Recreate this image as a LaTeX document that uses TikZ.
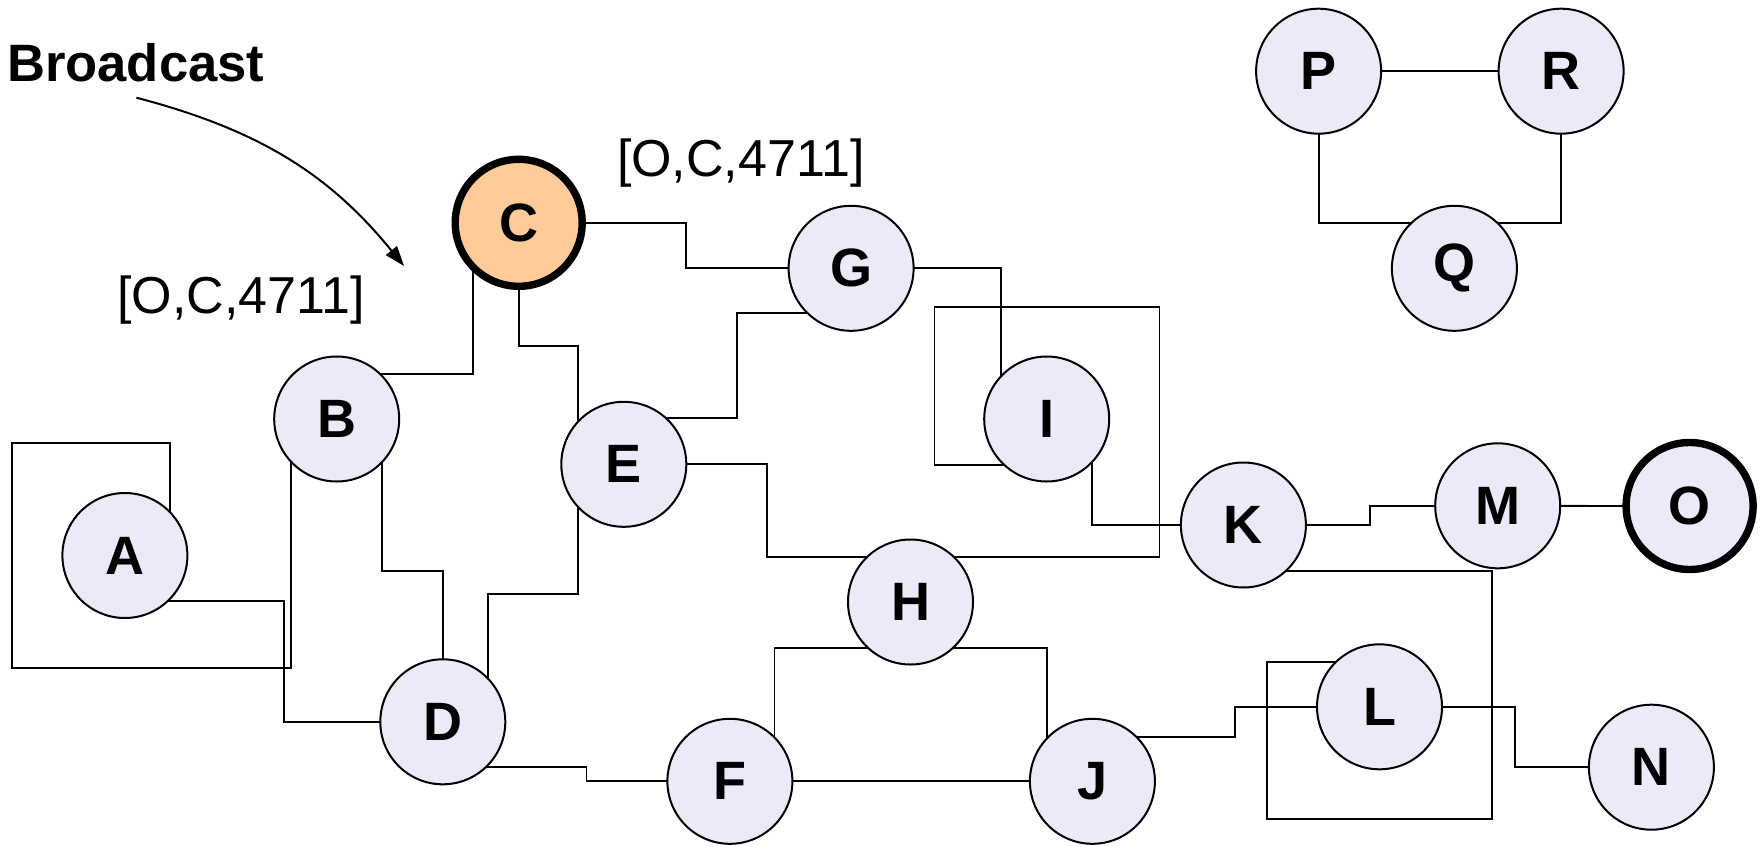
\documentclass[tikz,border=0pt]{standalone}
\usepackage{fontspec}
\setmainfont{Liberation Sans}
\usetikzlibrary{arrows.meta}
\pgfdeclarelayer{bg}
\pgfsetlayers{bg,main}
\definecolor{nodefill}{HTML}{EAEAF8}
\definecolor{srcfill}{HTML}{FFCC99}

\begin{document}
\begin{tikzpicture}[x=0.5pt,y=0.5pt]
                \tikzstyle{every node}+=[inner sep=0pt]
                \tikzstyle{station}=[circle,draw=black,line width=1pt,fill=nodefill,minimum size=62.5pt,font=\fontsize{27}{32}\selectfont\bfseries]
                \tikzstyle{endpoint}=[station,line width=3.7pt,minimum size=63.5pt]
                \tikzstyle{link}=[black,line width=0.9pt]
                \tikzstyle{tag}=[font=\fontsize{26}{31}\selectfont]
                \useasboundingbox (0,0) rectangle (1761,-846);
                \node [station] (A) at (124.9,-555.5) {A};
                \node [station] (B) at (336.7,-419) {B};
                \node [endpoint,fill=srcfill] (C) at (518.7,-222.8) {C};
                \node [station] (D) at (442.8,-721.8) {D};
                \node [station] (E) at (623.8,-464.3) {E};
                \node [station] (F) at (729.9,-781.3) {F};
                \node [station] (G) at (851.1,-268.3) {G};
                \node [station] (H) at (910.5,-602) {H};
                \node [station] (I) at (1046.7,-419) {I};
                \node [station] (J) at (1092.4,-781.3) {J};
                \node [station] (K) at (1243.4,-525) {K};
                \node [station] (L) at (1379.5,-706.8) {L};
                \node [station] (M) at (1497.7,-505.8) {M};
                \node [station] (N) at (1651.4,-767.2) {N};
                \node [endpoint] (O) at (1689.6,-506) {O};
                \node [station] (P) at (1318.6,-71.2) {P};
                \node [station] (Q) at (1454.4,-268.3) {Q};
                \node [station] (R) at (1561.1,-71.2) {R};
                \begin{pgfonlayer}{bg}
                \draw [link] (A.center) -| (170,-443) -| (12.3,-668) -| (290.7,-419) -- (B.center);
                \draw [link] (A.center) |- (284,-601.3) |- (D.center);
                \draw [link] (B.center) |- (473,-374.3) |- (C.center);
                \draw [link] (B.center) -| (381.6,-570.7) -| (D.center);
                \draw [link] (C.center) -| (685.8,-268.3) -- (G.center);
                \draw [link] (C.center) |- (578,-345.7) |- (E.center);
                \draw [link] (E.center) |- (737,-418.3) |- (851.1,-313.3) -- (G.center);
                \draw [link] (E.center) -| (578,-593.7) -| (487.7,-721.8) -- (D.center);
                \draw [link] (E.center) -| (767.2,-557.3) -| (H.center);
                \draw [link] (H.center) |- (1159.5,-557.3) |- (934.4,-306.7) |- (1046.7,-464.7) -- (I.center);
                \draw [link] (G.center) -| (1001.2,-419) -- (I.center);
                \draw [link] (I.center) -| (1092.1,-525) -- (K.center);
                \draw [link] (K.center) -| (1370,-505.8) -- (M.center);
                \draw [link] (M.center) -- (O.center);
                \draw [link] (K.center) |- (1491.7,-570.7) |- (1267.2,-819) |- (1379.5,-661.7) -- (L.center);
                \draw [link] (J.center) |- (1235.3,-737) |- (L.center);
                \draw [link] (L.center) -| (1515.3,-767.2) -- (N.center);
                \draw [link] (H.center) |- (1046.7,-648) |- (J.center);
                \draw [link] (H.center) |- (774.5,-648) |- (F.center);
                \draw [link] (F.center) -- (J.center);
                \draw [link] (D.center) |- (586.5,-767.3) |- (F.center);
                \draw [link] (P.center) -- (R.center);
                \draw [link] (P.center) |- (1454.4,-222.7) -- (Q.center);
                \draw [link] (R.center) |- (1454.4,-222.7) -- (Q.center);
                \end{pgfonlayer}
                \node [tag,font=\fontsize{26.3}{31}\selectfont\bfseries,anchor=base west] (bcast) at (6.7,-81.7) {Broadcast};
                \node [tag,anchor=base] (tagB) at (241.3,-313.3) {[O,C,4711]};
                \node [tag,anchor=base] (tagG) at (740.8,-176.7) {[O,C,4711]};
                \coordinate (bstart) at (136.4,-97.7);
                \coordinate (btip) at (404,-266);
                \draw [black,line width=1pt,-{Triangle[length=10pt,width=7pt]}] (bstart) .. controls (260,-130) and (330,-175) .. (btip);
\end{tikzpicture}
\end{document}
